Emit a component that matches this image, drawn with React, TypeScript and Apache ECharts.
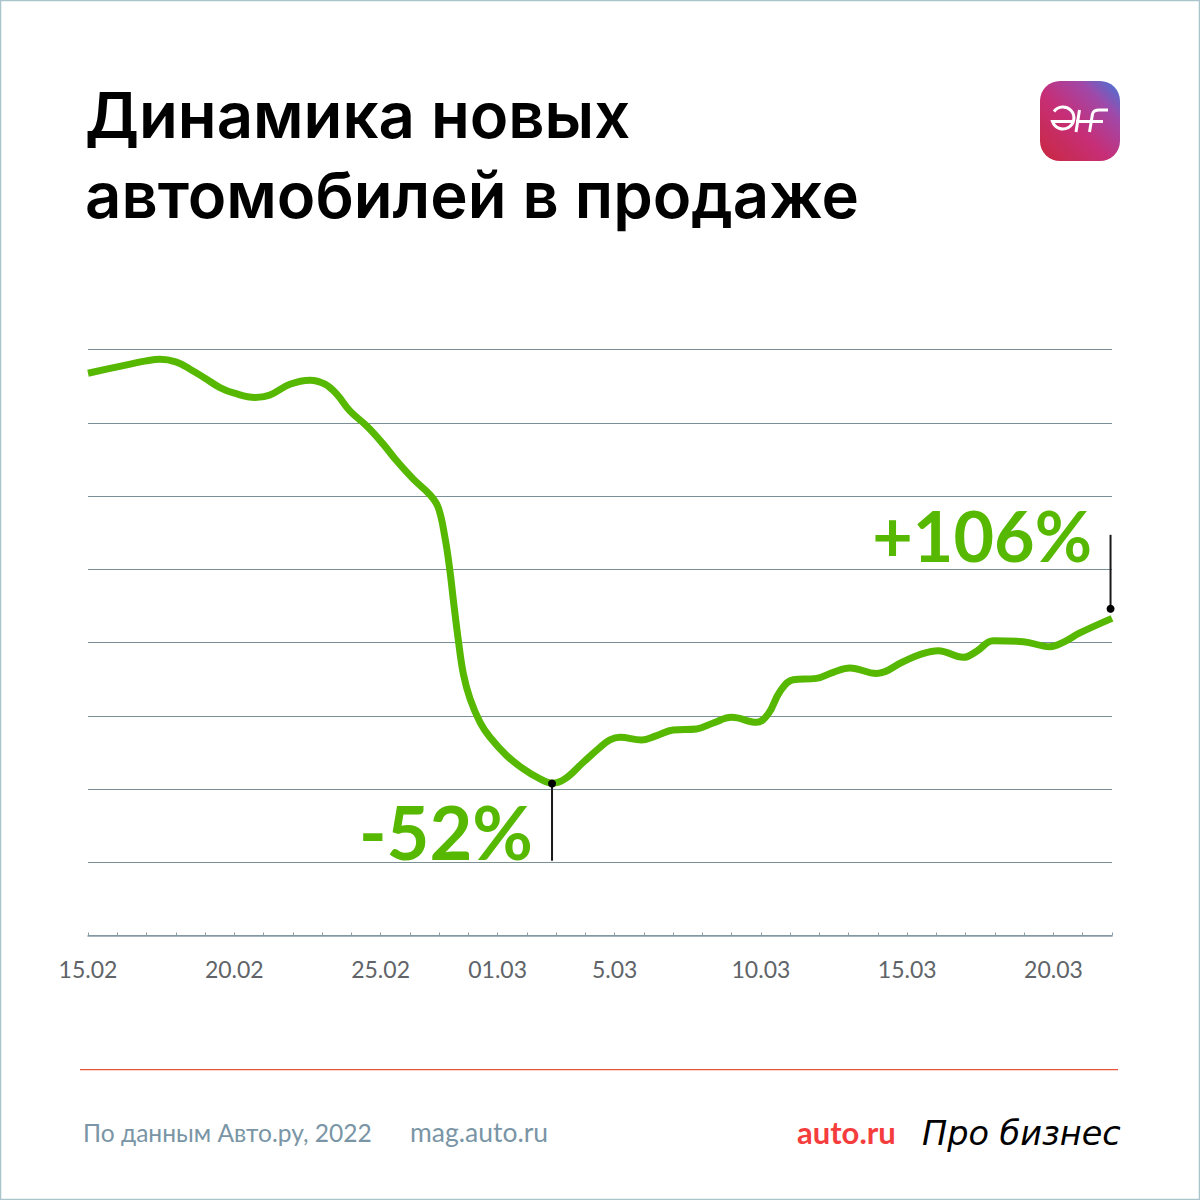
import React, { useEffect, useRef } from "react";
import * as echarts from "echarts";

const titleLines = ["Динамика новых", "автомобилей в продаже"];
const tickDays = [0, 5, 10, 14, 18, 23, 28, 33];
const tickLabels = ["15.02", "20.02", "25.02", "01.03", "5.03", "10.03", "15.03", "20.03"];

const days = [
  0, 1, 1.99, 2.46, 3, 3.49, 4, 4.51, 5, 5.71, 6.22, 6.9, 7.59, 8.1, 8.5, 8.95, 9.52, 10.09, 10.55, 11.12,
  11.69, 11.97, 12.2, 12.37, 12.49, 12.66, 12.83, 13.06, 13.4, 13.74, 14.31, 14.88, 15.45, 15.87, 16.3, 16.93,
  17.5, 17.84, 18.18, 18.92, 19.44, 20, 20.8, 21.37, 22, 22.85, 23.25, 23.65, 24.1, 24.9, 25.47, 26.04, 26.95,
  27.86, 28.43, 29.06, 29.92, 30.37, 30.94, 31.97, 32.88, 33.33, 33.9, 35,
];
const values = [
  76.76, 77.63, 78.44, 78.67, 78.31, 77.31, 76.08, 74.8, 74.03, 73.44, 73.8, 75.26, 75.81, 75.26, 73.9, 71.62,
  69.58, 67.08, 64.8, 62.3, 60.16, 58.44, 54.34, 49.8, 45.7, 40.25, 35.7, 32.3, 29.1, 27.06, 24.56, 22.74, 21.37,
  20.78, 21.37, 23.65, 25.69, 26.7, 27.06, 26.7, 27.29, 28.06, 28.2, 29.01, 29.78, 29.1, 30.24, 33.3, 34.92, 35.1,
  35.92, 36.52, 35.78, 37.38, 38.34, 38.88, 37.97, 38.79, 40.25, 40.11, 39.43, 40.02, 41.3, 43.29,
];
const lowDay = 15.86;
const lowValues = [20.74, 10.2];
const highDay = 34.95;
const highValues = [44.6, 54.7];

const GREEN = "#56b800";

export default function App() {
  const ref = useRef<HTMLDivElement>(null);
  useEffect(() => {
    document.body.style.margin = "0";
    const chart = echarts.init(ref.current!, undefined, { renderer: "svg" });
    (echarts.graphic as any).registerShape(
      "ejfGlyph",
      (echarts.graphic as any).extendPath(
        "M 1054 111.5 A 11 11 0 1 1 1052.5 121.5 L 1074 121.5 M 1079.5 110 L 1076 132 M 1092.5 114 L 1089.5 132 M 1076 121.5 L 1103 121.5 M 1092.5 114 Q 1093.5 110 1099 110 L 1108 110",
        {}
      )
    );
    chart.setOption({
      animation: false,
      backgroundColor: "#ffffff",
      grid: { left: 88, right: 88, top: 349.5, bottom: 264.5, containLabel: false },
      xAxis: {
        type: "value",
        min: 0,
        max: 35,
        interval: 1,
        splitLine: { show: false },
        axisLine: { show: true, onZero: false, lineStyle: { color: "#8a9ca8", width: 1.5 } },
        axisTick: { show: true, inside: true, length: 3, lineStyle: { color: "#8a9ca8", width: 1 } },
        axisLabel: {
          show: true,
          margin: 22,
          fontFamily: "Lato",
          fontSize: 23,
          color: "#606468",
          hideOverlap: false,
          formatter: (v: number) => {
            const i = tickDays.indexOf(v);
            return i >= 0 ? tickLabels[i] : "";
          },
        },
      },
      yAxis: {
        type: "value",
        min: 0,
        max: 80,
        interval: 10,
        axisLine: { show: false },
        axisTick: { show: false },
        axisLabel: { show: false },
        splitLine: { show: true, lineStyle: { color: "#7a8f96", width: 1 } },
      },
      series: [
        {
          type: "line",
          data: days.map((d, i) => [d, values[i]]),
          smooth: 0.4,
          showSymbol: false,
          clip: false,
          lineStyle: { color: GREEN, width: 7, cap: "butt" },
          z: 3,
        },
        {
          type: "line",
          data: lowValues.map((v) => [lowDay, v]),
          showSymbol: false,
          lineStyle: { color: "#1a1a1a", width: 2 },
          z: 4,
        },
        {
          type: "line",
          data: highValues.map((v) => [highDay, v]),
          showSymbol: false,
          lineStyle: { color: "#1a1a1a", width: 2 },
          z: 4,
        },
        {
          type: "scatter",
          data: [
            [lowDay, lowValues[0]],
            [highDay, highValues[0]],
          ],
          symbolSize: 8,
          itemStyle: { color: "#000000", opacity: 1 },
          z: 5,
        },
      ],
      graphic: [
        {
          type: "rect",
          silent: true,
          shape: { x: 0.5, y: 0.5, width: 1199, height: 1199 },
          style: { fill: "none", stroke: "#a9c4cb", lineWidth: 1.5 },
        },
        {
          type: "text",
          x: 85,
          y: 115,
          style: { text: titleLines[0], fontFamily: "Inter", fontWeight: 600, fontSize: 63.4, fill: "#000", textVerticalAlign: "middle" },
        },
        {
          type: "text",
          x: 85,
          y: 195,
          style: { text: titleLines[1], fontFamily: "Inter", fontWeight: 600, fontSize: 63.4, fill: "#000", textVerticalAlign: "middle" },
        },
        {
          type: "rect",
          shape: { x: 1040, y: 81, width: 80, height: 80, r: 20 },
          style: {
            fill: new echarts.graphic.LinearGradient(0, 1, 1, 0, [
              { offset: 0, color: "#c9283f" },
              { offset: 0.45, color: "#c62f78" },
              { offset: 0.75, color: "#a048a8" },
              { offset: 1, color: "#3f78d8" },
            ]),
          },
        },
        { type: "ejfGlyph", style: { fill: "none", stroke: "#fff", lineWidth: 3 } },
        {
          type: "text",
          x: 1092,
          y: 535,
          style: { text: "+106%", fontFamily: "Lato", fontWeight: 700, fontSize: 70, fill: GREEN, textAlign: "right", textVerticalAlign: "middle" },
        },
        {
          type: "text",
          x: 533,
          y: 831,
          style: { text: "-52%", fontFamily: "Lato", fontWeight: 700, fontSize: 74, fill: GREEN, textAlign: "right", textVerticalAlign: "middle" },
        },
        {
          type: "rect",
          shape: { x: 80, y: 1069, width: 1038, height: 1.2 },
          style: { fill: "#e8533a" },
        },
        {
          type: "text",
          x: 83,
          y: 1132,
          style: { text: "По данным Авто.ру, 2022", fontFamily: "Lato", fontSize: 24.6, fill: "#7a95a5", textVerticalAlign: "middle" },
        },
        {
          type: "text",
          x: 410,
          y: 1132,
          style: { text: "mag.auto.ru", fontFamily: "Lato", fontSize: 26.5, fill: "#7a95a5", textVerticalAlign: "middle" },
        },
        {
          type: "text",
          x: 797,
          y: 1132,
          style: { text: "auto.ru", fontFamily: "Lato", fontWeight: 700, fontSize: 31, fill: "#f53d3d", textVerticalAlign: "middle" },
        },
        {
          type: "text",
          x: 922,
          y: 1133,
          style: { text: "Про бизнес", fontFamily: "DejaVu Sans", fontStyle: "italic", fontSize: 33.5, fill: "#000", textVerticalAlign: "middle" },
        },
      ],
    });
    return () => chart.dispose();
  }, []);
  return <div ref={ref} style={{ width: 1200, height: 1200, position: "absolute", left: 0, top: 0 }} />;
}
